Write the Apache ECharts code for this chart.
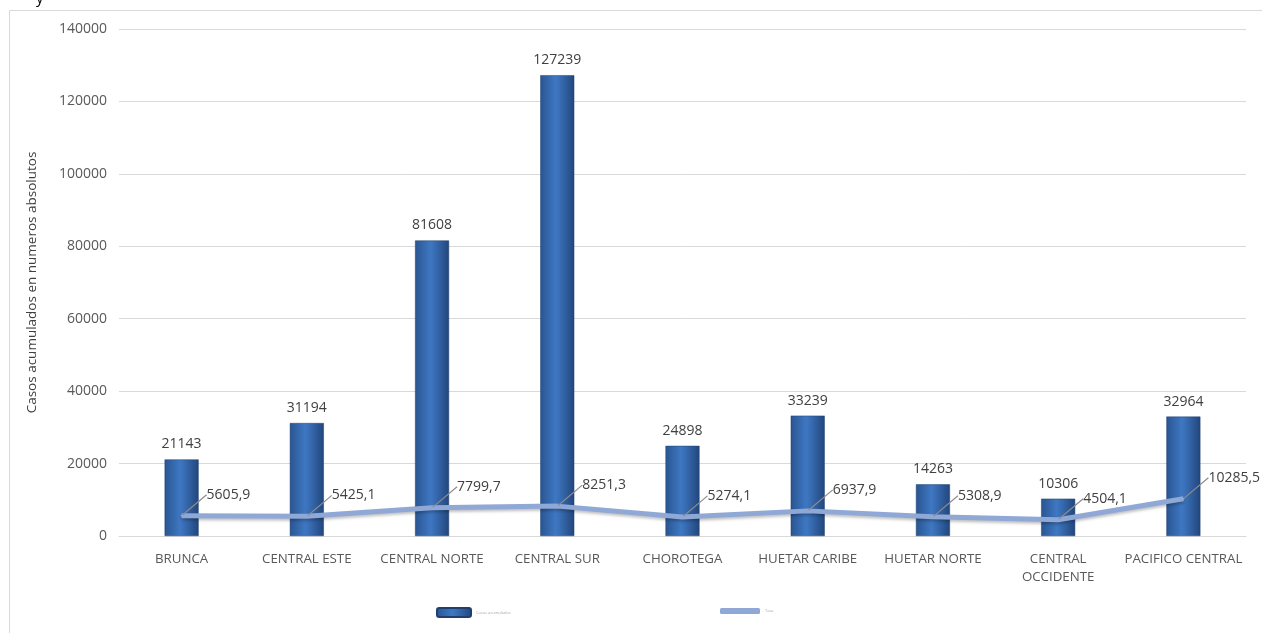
<!DOCTYPE html>
<html>
<head>
<meta charset="utf-8">
<script src="https://cdn.jsdelivr.net/npm/echarts@6/dist/echarts.min.js"></script>
<style>
html,body{margin:0;padding:0;background:#fff;}
#chart{width:1262px;height:633px;}
</style>
</head>
<body>
<div id="chart"></div>
<script>
const categories = ['BRUNCA','CENTRAL ESTE','CENTRAL NORTE','CENTRAL SUR','CHOROTEGA','HUETAR CARIBE','HUETAR NORTE','CENTRAL\nOCCIDENTE','PACIFICO CENTRAL'];
const casos = [21143, 31194, 81608, 127239, 24898, 33239, 14263, 10306, 32964];
const tasa = [5605.9, 5425.1, 7799.7, 8251.3, 5274.1, 6937.9, 5308.9, 4504.1, 10285.5];
const seriesNames = ['Casos acumulados', 'Tasa'];
const yAxisName = 'Casos acumulados en numeros absolutos';

const FONT = '"Open Sans", "Noto Sans", sans-serif';
const chart = echarts.init(document.getElementById('chart'));
const barGrad = new echarts.graphic.LinearGradient(0,0,1,0,[
  {offset:0,color:'#2a5591'},
  {offset:0.45,color:'#3e77c2'},
  {offset:0.55,color:'#3a70b8'},
  {offset:1,color:'#22467c'}
]);
chart.setOption({
  animation:false,
  textStyle:{fontFamily:FONT},
  graphic:[
    {type:'rect',shape:{x:9.5,y:10.5,width:1300,height:700},style:{fill:'none',stroke:'#d9d9d9',lineWidth:1},silent:true,z:-1},
    {type:'text',left:36,top:-9,style:{text:'y',fontSize:15,fill:'#000',fontFamily:FONT}}
  ],
  grid:{left:119,right:16,top:29,bottom:97,containLabel:false},
  legend:[
    {left:431,top:602,data:[seriesNames[0]],itemWidth:34,itemHeight:9,itemGap:10,
     textStyle:{fontSize:4,color:'#aaa'}},
    {left:715,top:603,data:[{name:seriesNames[1],icon:'roundRect',itemStyle:{color:'#8fa8d6',opacity:1}}],itemWidth:40,itemHeight:6,
     textStyle:{fontSize:4,color:'#aaa'}}
  ],
  xAxis:{type:'category',data:categories,
    axisLine:{lineStyle:{color:'#d9d9d9'}},axisTick:{show:false},
    axisLabel:{color:'#595959',fontSize:13.3,margin:14,interval:0,lineHeight:18}},
  yAxis:{type:'value',min:0,max:140000,interval:20000,
    name:yAxisName,nameLocation:'middle',nameGap:80,
    nameTextStyle:{color:'#404040',fontSize:13.5},
    axisLine:{show:false},axisTick:{show:false},
    axisLabel:{color:'#595959',fontSize:14,margin:12,formatter:v=>String(v)},
    splitLine:{lineStyle:{color:'#d9d9d9'}}},
  series:[
    {name:seriesNames[0],type:'bar',data:casos,barWidth:34,
     itemStyle:{color:barGrad,borderColor:'#1f3f70',borderWidth:0.5},
     label:{show:true,position:'top',distance:8,color:'#404040',fontSize:14}},
    {name:seriesNames[1],type:'line',data:tasa,symbol:'circle',symbolSize:2,showSymbol:true,
     lineStyle:{color:'#8fa8d6',width:5,shadowColor:'rgba(0,0,0,0.25)',shadowBlur:3,shadowOffsetY:2},
     itemStyle:{color:'#8fa8d6'},
     label:{show:true,position:'right',distance:2,color:'#404040',fontSize:14,
       padding:[0,0,0,4],
       formatter:p=>String(p.value).replace('.',',')},
     labelLayout:{dx:18,dy:-21},
     labelLine:{show:true,lineStyle:{color:'#8c8c8c',width:1.2}},
     z:3}
  ]
});
</script>
</body>
</html>
